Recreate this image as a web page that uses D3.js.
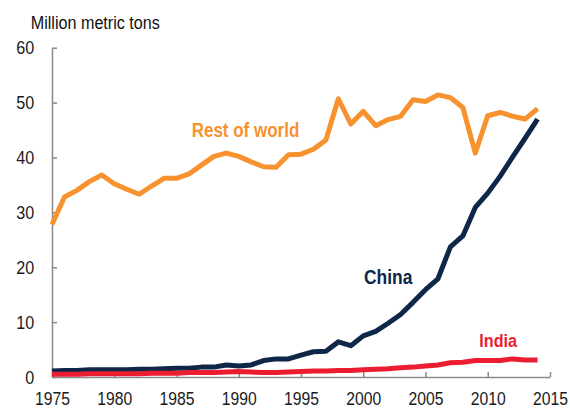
<!DOCTYPE html>
<html>
<head>
<meta charset="utf-8">
<script src="https://cdn.jsdelivr.net/npm/d3@7"></script>
<style>
  html, body { margin: 0; padding: 0; background: #fff; }
  svg { display: block; font-family: "Liberation Sans", Arial, sans-serif; }
</style>
</head>
<body>
<svg id="chart" width="570" height="409"></svg>
<script>
const years = d3.range(1975, 2015);
const restOfWorld = [27.8, 32.8, 34.0, 35.6, 36.8, 35.2, 34.2, 33.3, 34.8, 36.2,
  36.2, 37.0, 38.6, 40.2, 40.8, 40.2, 39.2, 38.3, 38.2, 40.5,
  40.6, 41.5, 43.2, 50.7, 46.1, 48.4, 45.8, 46.9, 47.5, 50.5,
  50.2, 51.4, 50.9, 49.1, 40.8, 47.6, 48.2, 47.5, 47.0, 48.9];
const china = [1.1, 1.2, 1.2, 1.3, 1.3, 1.3, 1.3, 1.4, 1.4, 1.5,
  1.6, 1.6, 1.8, 1.8, 2.2, 2.0, 2.2, 3.0, 3.3, 3.3,
  4.0, 4.6, 4.7, 6.4, 5.7, 7.5, 8.3, 9.8, 11.4, 13.6,
  15.9, 17.9, 23.7, 25.7, 30.9, 33.5, 36.6, 40.1, 43.5, 47.0];
const india = [0.5, 0.5, 0.5, 0.6, 0.6, 0.6, 0.6, 0.6, 0.7, 0.7,
  0.7, 0.8, 0.8, 0.8, 0.9, 1.0, 0.9, 0.8, 0.8, 0.9,
  1.0, 1.1, 1.1, 1.2, 1.2, 1.3, 1.4, 1.5, 1.7, 1.8,
  2.0, 2.2, 2.6, 2.7, 3.0, 3.0, 3.0, 3.3, 3.1, 3.1];
const yTicks = [0, 10, 20, 30, 40, 50, 60];
const xTicks = [1975, 1980, 1985, 1990, 1995, 2000, 2005, 2010, 2015];

const svg = d3.select("#chart");
const x = d3.scaleLinear().domain([1975, 2015]).range([52, 550]);
const y = d3.scaleLinear().domain([0, 60]).range([377, 47.7]);
const SX = 0.85;

const axisColor = "#8a8a8a";

const gy = svg.append("g").attr("transform", "translate(52,0)")
  .call(d3.axisLeft(y).tickValues(yTicks).tickSizeInner(-5).tickSizeOuter(0).tickPadding(21).tickFormat(d3.format("d")));
const gx = svg.append("g").attr("transform", "translate(0,377)")
  .call(d3.axisBottom(x).tickValues(xTicks).tickSizeInner(-5).tickSizeOuter(0).tickPadding(14.5).tickFormat(d3.format("d")));

[gy, gx].forEach(g => {
  g.select(".domain").attr("stroke", axisColor).attr("stroke-width", 1.5);
  g.selectAll(".tick line").attr("stroke", axisColor).attr("stroke-width", 1.5);
  g.selectAll(".tick text").attr("font-size", 19).attr("fill", "#1a1a1a")
    .attr("font-family", "'Liberation Sans', Arial, sans-serif")
    .attr("transform", `scale(${SX},1)`);
});
gx.selectAll(".tick text").attr("font-size", 18.5);

const line = d3.line().x((d, i) => x(years[i])).y(d => y(d));
const series = [
  { values: restOfWorld, color: "#F7922F" },
  { values: china, color: "#0E2749" },
  { values: india, color: "#EC1C31" }
];
series.forEach(s => {
  svg.append("path").datum(s.values).attr("d", line)
    .attr("fill", "none").attr("stroke", s.color).attr("stroke-width", 5)
    .attr("stroke-linejoin", "round").attr("stroke-linecap", "butt");
});

function label(txt, px, py, size, weight, color) {
  svg.append("text").attr("transform", `translate(${px},${py}) scale(${SX},1)`)
    .attr("font-size", size).attr("font-weight", weight).attr("fill", color).text(txt);
}
label("Million metric tons", 30.7, 29, 19, "normal", "#111");
label("Rest of world", 191.7, 136.7, 20, "bold", "#F7922F");
label("China", 364, 284, 20.5, "bold", "#0E2749");
label("India", 479.3, 347.3, 19, "bold", "#EC1C31");
</script>
</body>
</html>
